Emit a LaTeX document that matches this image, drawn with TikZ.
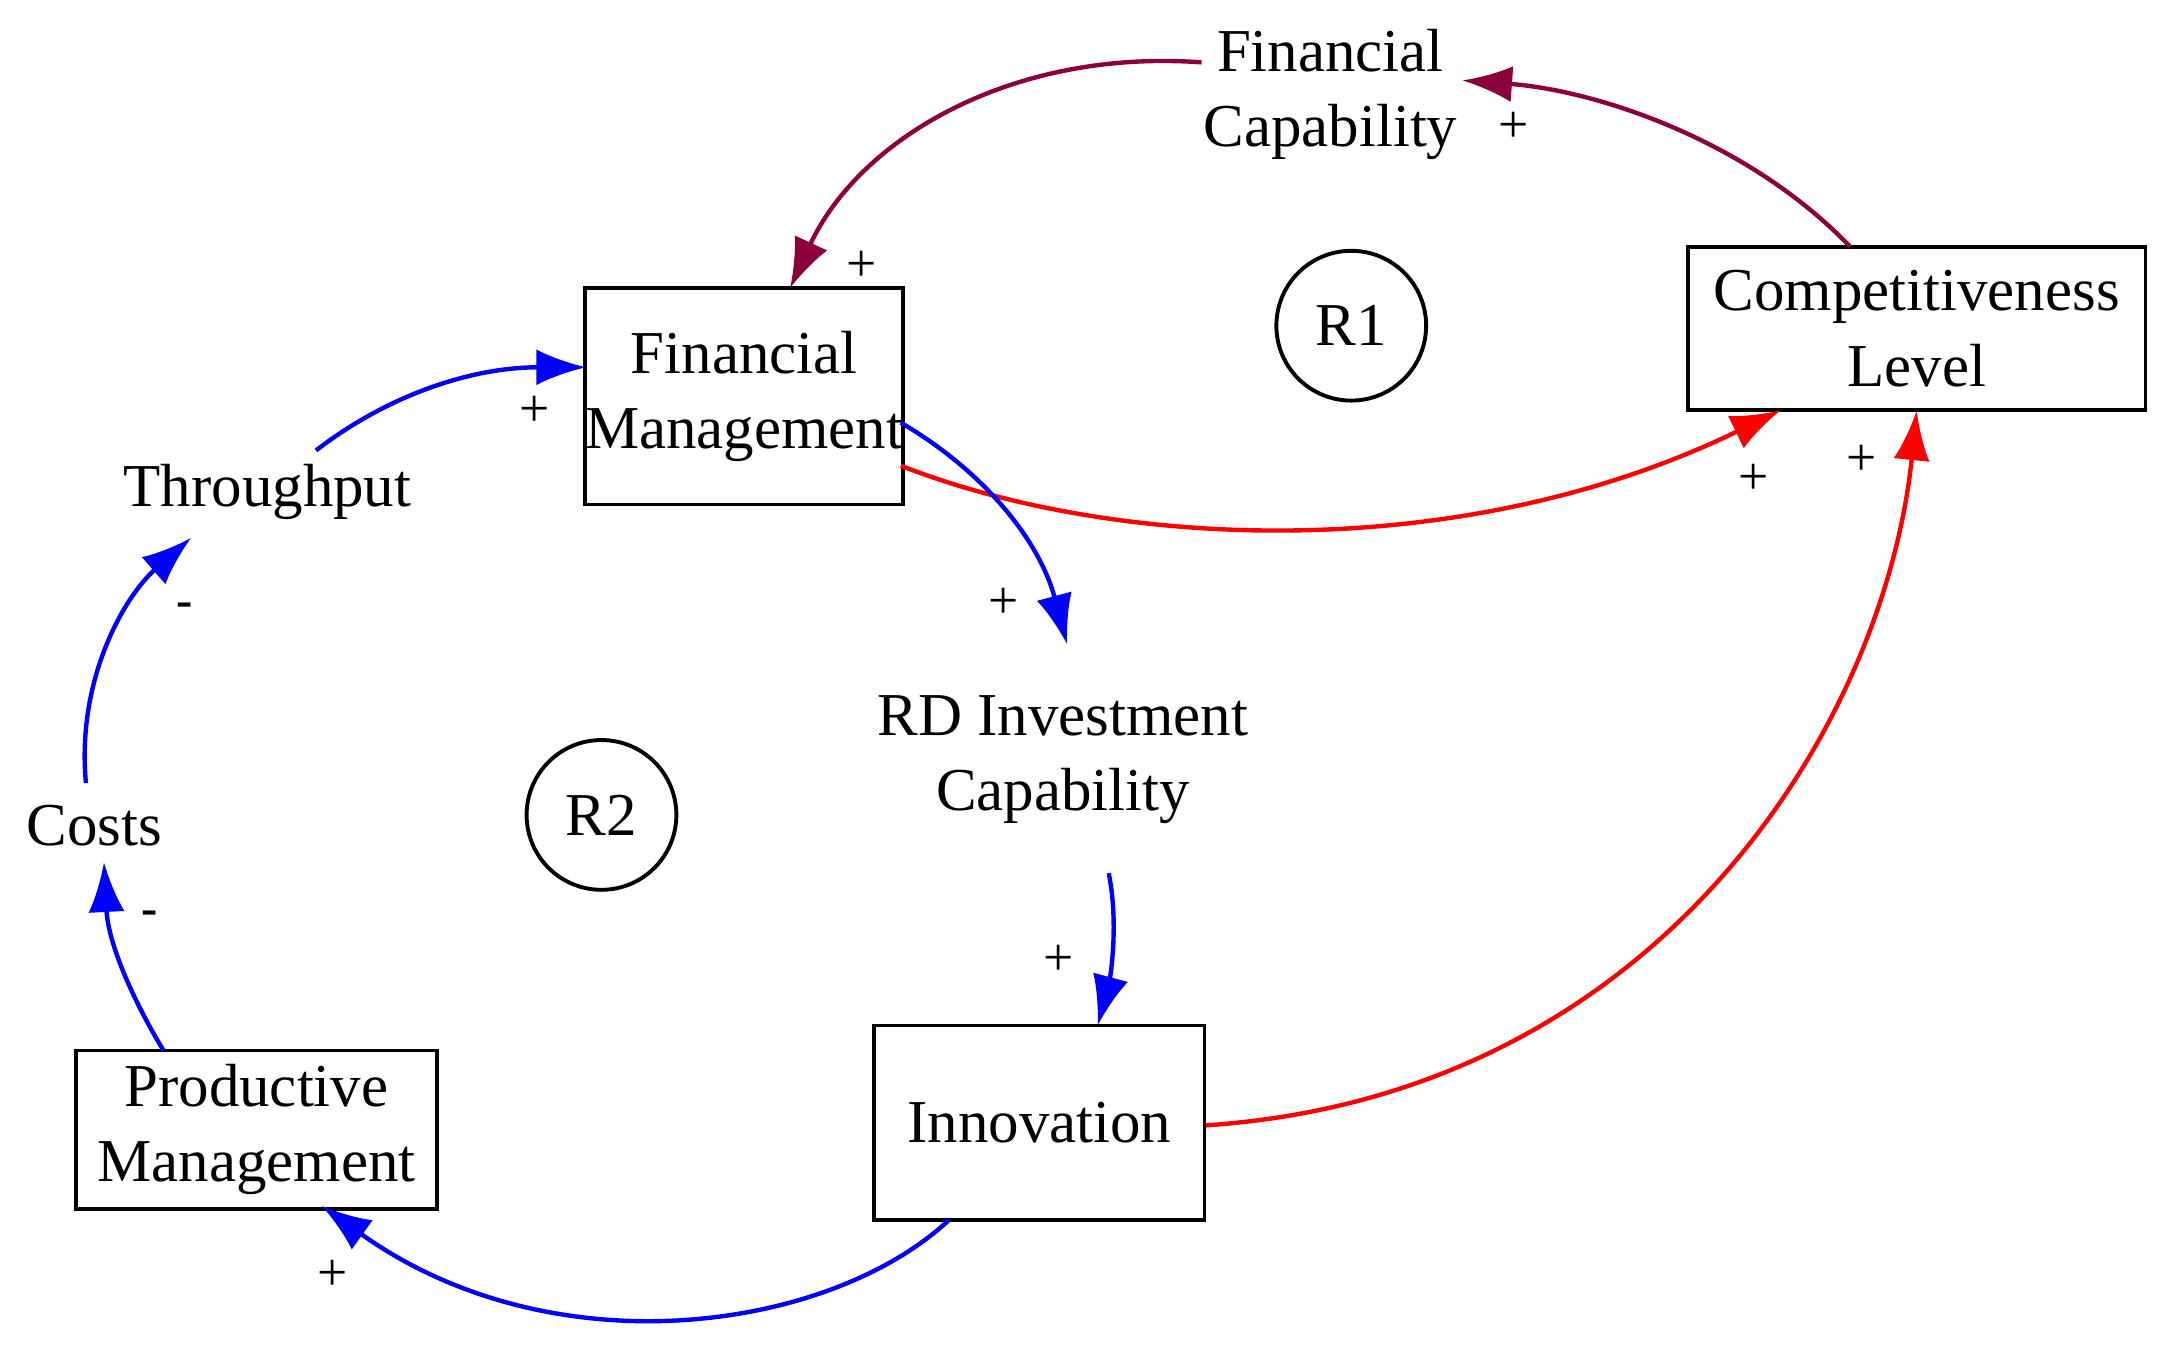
\documentclass[tikz,border=0pt]{standalone}
\usepackage{fontspec}
\setmainfont{Liberation Serif}
\usetikzlibrary{arrows.meta}
\definecolor{plum}{RGB}{140,0,60}
\begin{document}
\begin{tikzpicture}[x=0.01cm,y=-0.01cm,
  font=\fontsize{12.5}{15.5}\selectfont,
  box/.style={draw,line width=0.8pt,align=center,inner sep=0pt},
  txt/.style={align=center,inner sep=0pt},
  loop/.style={draw,circle,line width=0.8pt,minimum size=1.08cm,inner sep=0pt},
  sgn/.style={inner sep=0pt,font=\fontsize{11}{12}\selectfont},
  lnk/.style={line width=0.9pt,-{Latex[length=0.36cm,width=0.26cm]}}]
\useasboundingbox (0,0) rectangle (1560,978);
% variables
\node[txt] (fc) at (960,68) {Financial\\Capability};
\node[box,minimum width=2.27cm,minimum height=1.56cm] (fm) at (537,286) {Financial\\Management};
\node[box,minimum width=3.3cm,minimum height=1.18cm] (cl) at (1383,237) {Competitiveness\\Level};
\node[loop] (r1) at (975,235) {R1};
\node[txt] (tp) at (193,355) {Throughput};
\node[txt] (rd) at (767,548) {RD Investment\\Capability};
\node[txt] (co) at (68,596) {Costs};
\node[loop] (r2) at (434,588) {R2};
\node[box,minimum width=2.6cm,minimum height=1.14cm] (pm) at (185,815) {Productive\\Management};
\node[box,minimum width=2.38cm,minimum height=1.4cm] (in) at (750,810) {Innovation};
% end points
\coordinate (cl1) at (1335,178); \coordinate (fc1) at (1055,58);
\coordinate (fc2) at (867,45);   \coordinate (fm1) at (570,208);
\coordinate (fm2) at (650,336);  \coordinate (cl2) at (1285,296);
\coordinate (fm3) at (650,305);  \coordinate (rd1) at (770,465);
\coordinate (rd2) at (800,630);  \coordinate (in1) at (792,740);
\coordinate (in2) at (870,812);  \coordinate (cl3) at (1383,296);
\coordinate (in3) at (685,880);  \coordinate (pm1) at (232,870);
\coordinate (pm2) at (118,758);  \coordinate (co1) at (75,622);
\coordinate (co2) at (62,565);   \coordinate (tp1) at (138,388);
\coordinate (tp2) at (228,325);  \coordinate (fm4) at (423,265);
% links
\draw[lnk,plum] (cl1) .. controls (1260,100) and (1150,65) .. (fc1);
\draw[lnk,plum] (fc2) .. controls (730,35) and (620,100) .. (fm1);
\draw[lnk,red] (fm2) .. controls (800,395) and (1050,410) .. (cl2);
\draw[lnk,blue] (fm3) .. controls (710,340) and (750,390) .. (rd1);
\draw[lnk,blue] (rd2) .. controls (808,670) and (800,710) .. (in1);
\draw[lnk,red] (in2) .. controls (1200,790) and (1360,520) .. (cl3);
\draw[lnk,blue] (in3) .. controls (600,960) and (400,990) .. (pm1);
\draw[lnk,blue] (pm2) .. controls (95,720) and (78,680) .. (co1);
\draw[lnk,blue] (co2) .. controls (55,490) and (90,430) .. (tp1);
\draw[lnk,blue] (tp2) .. controls (280,285) and (340,265) .. (fm4);
% polarities
\node[sgn] (s1) at (1092,92) {+};
\node[sgn] (s2) at (622,192) {+};
\node[sgn] (s3) at (1265,346) {+};
\node[sgn] (s4) at (1343,332) {+};
\node[sgn] (s5) at (386,297) {+};
\node[sgn] (s6) at (724,435) {+};
\node[sgn] (s7) at (764,693) {+};
\node[sgn] (s8) at (240,920) {+};
\node[sgn,font=\bfseries] (s9) at (133,440) {-};
\node[sgn,font=\bfseries] (s10) at (108,662) {-};
\end{tikzpicture}
\end{document}
